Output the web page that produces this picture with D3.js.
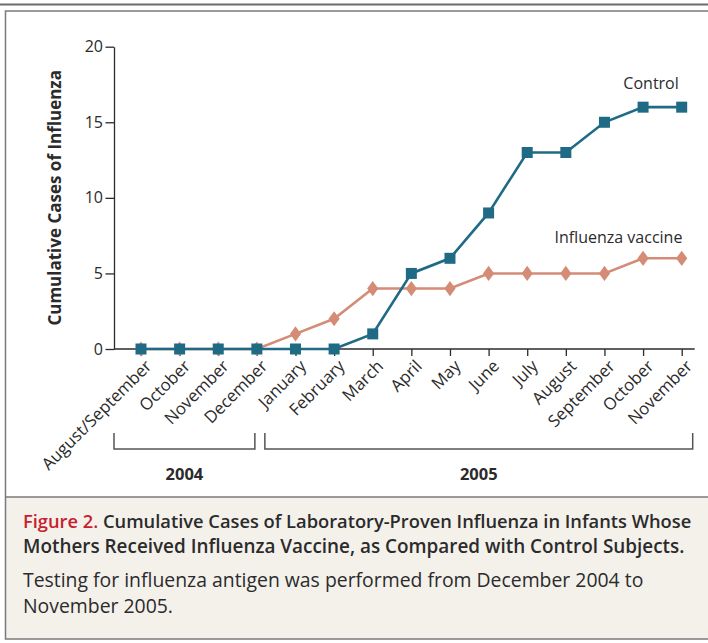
<!DOCTYPE html>
<html>
<head>
<meta charset="utf-8">
<script src="https://cdn.jsdelivr.net/npm/d3@7"></script>
<style>
  html, body { margin: 0; padding: 0; background: #fff; }
  svg { display: block; }
  text { font-family: "Open Sans", Lato, sans-serif; }
</style>
</head>
<body>
<div id="chart"></div>
<script>
// ---- data ----
const months = ["August/September", "October", "November", "December", "January", "February",
  "March", "April", "May", "June", "July", "August", "September", "October ", "November "];
const controlValues = [0, 0, 0, 0, 0, 0, 1, 5, 6, 9, 13, 13, 15, 16, 16];
const vaccineValues = [0, 0, 0, 0, 1, 2, 4, 4, 4, 5, 5, 5, 5, 6, 6];
const yTicks = [0, 5, 10, 15, 20];
const years = ["2004", "2005"];
const seriesNames = ["Control", "Influenza vaccine"];
const yTitle = "Cumulative Cases of Influenza";
const captionLines = [
  [{t: "Figure 2. ", red: true, bold: true}, {t: "Cumulative Cases of Laboratory-Proven Influenza in Infants Whose", bold: true}],
  [{t: "Mothers Received Influenza Vaccine, as Compared with Control Subjects.", bold: true}],
  [{t: "Testing for influenza antigen was performed from December 2004 to"}],
  [{t: "November 2005."}]
];

// ---- layout ----
const W = 708, H = 643;
const FONT = "'Open Sans', Lato, sans-serif";
const colControl = "#1f6a84", colVaccine = "#d48c77", ink = "#2b2b2b";

const svg = d3.select("#chart").append("svg").attr("width", W).attr("height", H);

// frame
svg.append("rect").attr("x", 0).attr("y", 0).attr("width", W).attr("height", H).attr("fill", "#fff");
svg.append("rect").attr("x", 5.5).attr("y", 497).attr("width", W + 10).attr("height", 142).attr("fill", "#f4f1eb");
svg.append("line").attr("x1", 0).attr("x2", W).attr("y1", 4.5).attr("y2", 4.5).attr("stroke", "#6b6b6b").attr("stroke-width", 2.2);
svg.append("rect").attr("x", 5.5).attr("y", 11).attr("width", W + 10).attr("height", 628)
  .attr("fill", "none").attr("stroke", "#7a7a7a").attr("stroke-width", 1.5);
svg.append("line").attr("x1", 5.5).attr("x2", W).attr("y1", 497).attr("y2", 497).attr("stroke", "#7a7a7a").attr("stroke-width", 1.5);

// scales
const x = d3.scalePoint().domain(months).range([141, 681.7]);
const y = d3.scaleLinear().domain([0, 20]).range([349, 46.7]);
const axisLeftX = 114;

// y axis
const gy = svg.append("g").attr("transform", `translate(${axisLeftX},0)`)
  .call(d3.axisLeft(y).tickValues(yTicks).tickSize(8.5).tickSizeOuter(0).tickPadding(2.5));
gy.select(".domain").attr("stroke", ink).attr("stroke-width", 1.3);
gy.selectAll(".tick line").attr("stroke", ink).attr("stroke-width", 1.3);
gy.selectAll(".tick text").attr("fill", ink).attr("font-size", 16).attr("font-family", FONT);

// x axis
const gx = svg.append("g").attr("transform", `translate(0,${y(0)})`)
  .call(d3.axisBottom(x).tickSize(7).tickSizeOuter(0));
gx.select(".domain").remove();
gx.append("line").attr("x1", axisLeftX).attr("x2", x(months[months.length - 1]) + 13)
  .attr("stroke", ink).attr("stroke-width", 1.3);
gx.selectAll(".tick line").attr("stroke", ink).attr("stroke-width", 1.3);
gx.selectAll(".tick text")
  .attr("fill", ink).attr("font-size", 16.8).attr("font-family", FONT)
  .attr("text-anchor", "end")
  .attr("y", 0).attr("dy", "0.35em")
  .attr("transform", "translate(7,14) rotate(-45)")
  .text(d => d.trim());

// y title
svg.append("text")
  .attr("transform", `translate(55,${(y(0) + y(20)) / 2}) rotate(-90)`)
  .attr("text-anchor", "middle").attr("dy", "0.35em")
  .attr("font-size", 17).attr("font-weight", "bold").attr("fill", ink)
  .text(yTitle);

// year brackets
const br = [
  {label: years[0], x0: axisLeftX, x1: x(months[3]) - 2},
  {label: years[1], x0: x(months[3]) + 8, x1: x(months[14]) + 11}
];
br.forEach(b => {
  svg.append("path")
    .attr("d", `M${b.x0},433V449H${b.x1}V433`)
    .attr("fill", "none").attr("stroke", "#555").attr("stroke-width", 1.5);
  svg.append("text").attr("x", (b.x0 + b.x1) / 2).attr("y", 480)
    .attr("text-anchor", "middle").attr("font-size", 16.5).attr("font-weight", "bold").attr("fill", ink)
    .text(b.label);
});

// lines
const line = d3.line().x((d, i) => x(months[i])).y(d => y(d));
const diamond = {
  draw(ctx, size) {
    const w = 5.6, h = 7.6;
    ctx.moveTo(0, -h); ctx.lineTo(w, 0); ctx.lineTo(0, h); ctx.lineTo(-w, 0); ctx.closePath();
  }
};

svg.append("path").datum(vaccineValues).attr("d", line)
  .attr("fill", "none").attr("stroke", colVaccine).attr("stroke-width", 2.6);
svg.append("g").selectAll("path").data(vaccineValues).join("path")
  .attr("transform", (d, i) => `translate(${x(months[i])},${y(d)})`)
  .attr("d", d3.symbol().type(diamond)())
  .attr("fill", colVaccine);

svg.append("path").datum(controlValues).attr("d", line)
  .attr("fill", "none").attr("stroke", colControl).attr("stroke-width", 2.6);
svg.append("g").selectAll("rect").data(controlValues).join("rect")
  .attr("x", (d, i) => x(months[i]) - 5.5).attr("y", d => y(d) - 5.5)
  .attr("width", 11).attr("height", 11)
  .attr("fill", colControl);

// series labels
svg.append("text").attr("x", x(months[13]) + 8).attr("y", y(controlValues[13]) - 18)
  .attr("text-anchor", "middle").attr("font-size", 16).attr("fill", ink).text(seriesNames[0]);
svg.append("text").attr("x", x(months[12]) + 14).attr("y", y(vaccineValues[12]) - 30)
  .attr("text-anchor", "middle").attr("font-size", 16).attr("fill", ink).text(seriesNames[1]);

// caption
const cap = svg.append("g");
const capY = [528, 553, 587, 613];
const capSize = [18.3, 18.9, 19.4, 19.4];
captionLines.forEach((ln, i) => {
  const t = cap.append("text").attr("x", 23).attr("y", capY[i])
    .attr("font-size", capSize[i]).attr("fill", ink);
  ln.forEach(s => t.append("tspan")
    .attr("font-weight", s.bold ? 600 : "normal")
    .attr("fill", s.red ? "#c8202e" : ink)
    .text(s.t));
});
</script>
</body>
</html>
